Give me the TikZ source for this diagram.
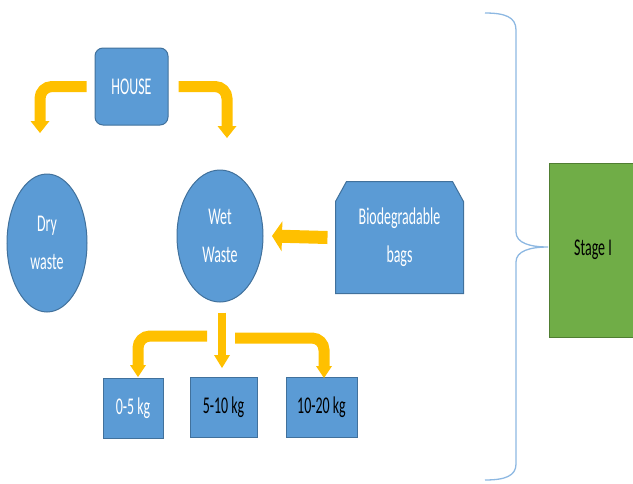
\documentclass[tikz,border=0pt]{standalone}
\usepackage{fontspec}
\setmainfont{Carlito}
\usetikzlibrary{shapes.geometric,arrows.meta,backgrounds}
\definecolor{boxblue}{HTML}{5B9BD5}
\definecolor{boxedge}{HTML}{41719C}
\definecolor{flowfill}{HTML}{FFC000}
\definecolor{stagegreen}{HTML}{70AD47}
\definecolor{stageedge}{HTML}{507E32}
\definecolor{bracecol}{HTML}{8DB8E2}
\newcommand\sq[1]{\scalebox{0.58}[1]{#1}}
\tikzset{
  block/.style={fill=boxblue, draw=boxedge, line width=1pt, inner sep=0pt,
    align=center, text=white, font=\fontsize{24}{38}\selectfont},
  blob/.style={block, ellipse},
  flow/.style={draw=flowfill, line width=11pt, rounded corners=12pt,
    -{Triangle[width=19pt,length=12pt,line width=0pt]}}
}

\begin{document}
\begin{tikzpicture}[x=1pt,y=-1pt]
	\useasboundingbox (0,0) rectangle (633,483);
	\node[block, rounded corners=8pt, minimum width=73pt, minimum height=77pt] (house) at (131.5,86.5) {\sq{HOUSE}};
	\node[blob, minimum width=80pt, minimum height=138pt] (dry) at (47,243) {\sq{Dry}\\\sq{waste}};
	\node[blob, minimum width=86pt, minimum height=132pt] (wet) at (220,236) {\sq{Wet}\\\sq{Waste}};
	\node[block, fill=none, draw=none, minimum width=127pt, minimum height=111pt] (bags) at (399.5,237.5) {\sq{Biodegradable}\\\sq{bags}};
	\begin{scope}[on background layer]
		\filldraw[fill=boxblue, draw=boxedge, line width=1pt] (bags.south west) -- ([yshift=-20pt]bags.north west)
			-- ([xshift=11pt]bags.north west) -- ([xshift=-11pt]bags.north east)
			-- ([yshift=-20pt]bags.north east) -- (bags.south east) -- cycle;
	\end{scope}
	\node[block, minimum width=60pt, minimum height=60pt] (low) at (133,408) {\sq{0-5 kg}};
	\node[block, text=black, minimum width=67pt, minimum height=60pt] (mid) at (223.5,407) {\sq{5-10 kg}};
	\node[block, text=black, minimum width=71pt, minimum height=60pt] (high) at (321.5,407) {\sq{10-20 kg}};
	\node[block, fill=stagegreen, draw=stageedge, text=black, minimum width=88pt, minimum height=174pt] (stage) at (593,250) {\sq{Stage I}};

	\coordinate (dryin) at (40,133);
	\coordinate (wetin) at (227,138);
	\coordinate (wetside) at (272,236);
	\coordinate (lowsplit) at (207,336);
	\coordinate (highsplit) at (235,338);
	\coordinate (lowin) at (138,377);
	\coordinate (midin) at (222,368);
	\coordinate (highin) at (324,378);

	\draw[flow] ([xshift=-8pt]house.west) -| (dryin);
	\draw[flow] ([xshift=10pt]house.east) -| (wetin);
	\draw[flow, line width=13pt, -{Triangle[width=30pt,length=10pt,line width=0pt]}] ([xshift=-8pt]bags.west) -- (wetside);
	\draw[flow, line width=8pt, -{Triangle[width=16pt,length=13pt,line width=0pt]}] ([xshift=2pt,yshift=-10pt]wet.south) -- (midin);
	\draw[flow, -{Triangle[width=16pt,length=12pt,line width=0pt]}] (lowsplit) -| (lowin);
	\draw[flow, -{Triangle[width=16pt,length=12pt,line width=0pt]}] (highsplit) -| (highin);

	\draw[bracecol, line width=1.3pt] (485,13) .. controls (505,13) and (516,17) .. (516,30) -- (516,232)
		.. controls (516,243) and (530,247) .. (548,247)
		.. controls (530,247) and (516,251) .. (516,262) -- (516,464)
		.. controls (516,476) and (505,480) .. (485,480);
\end{tikzpicture}
\end{document}
